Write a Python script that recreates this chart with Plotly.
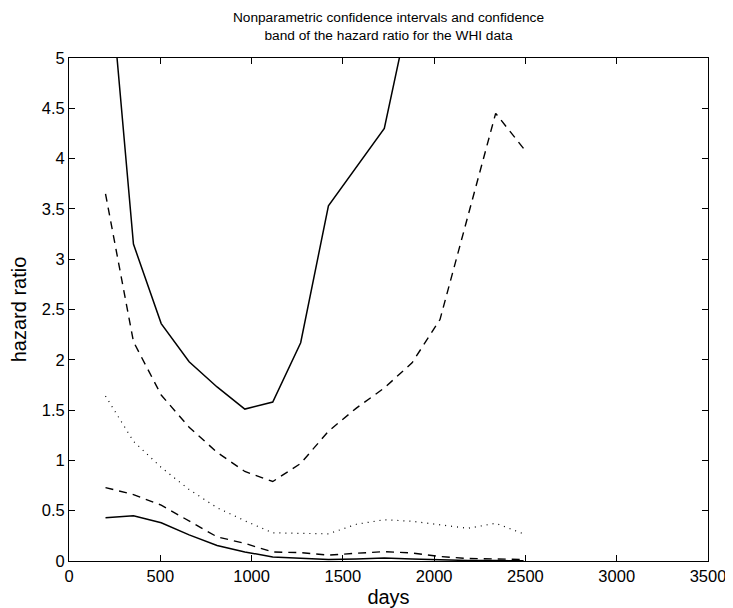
import plotly.graph_objects as go

days = [200, 353, 505, 658, 811, 963, 1116, 1269, 1421, 1574, 1727, 1879, 2032, 2185, 2337, 2490]

upper_band = [6.3, 3.15, 2.36, 1.98, 1.73, 1.51, 1.58, 2.17, 3.53, 3.92, 4.30, 5.59,
              None, None, None, None]
upper_ci = [3.65, 2.18, 1.65, 1.33, 1.08, 0.89, 0.79, 0.97, 1.29, 1.52, 1.72, 1.97,
            2.40, 3.42, 4.45, 4.10]
estimate = [1.64, 1.19, 0.93, 0.71, 0.53, 0.40, 0.28, 0.275, 0.27, 0.365, 0.41, 0.395,
            0.36, 0.325, 0.375, 0.27]
lower_ci = [0.73, 0.66, 0.555, 0.40, 0.24, 0.175, 0.09, 0.083, 0.058, 0.077, 0.093, 0.08,
            0.045, 0.025, 0.018, 0.015]
lower_band = [0.43, 0.45, 0.38, 0.26, 0.155, 0.09, 0.04, 0.03, 0.015, 0.02, 0.03, 0.02,
              0.01, 0.005, 0.004, 0.003]

x_ticks = [0, 500, 1000, 1500, 2000, 2500, 3000, 3500]
y_ticks = [0, 0.5, 1, 1.5, 2, 2.5, 3, 3.5, 4, 4.5, 5]
y_tick_labels = ["0", "0.5", "1", "1.5", "2", "2.5", "3", "3.5", "4", "4.5", "5"]

FONT = "Liberation Sans, Arial, Helvetica, sans-serif"

fig = go.Figure()
series = [
    (upper_band, "solid", 1.5),
    (upper_ci, "8px,6px", 1.4),
    (estimate, "1px,5px", 1.2),
    (lower_ci, "8px,6px", 1.4),
    (lower_band, "solid", 1.5),
]
for ys, dash, w in series:
    fig.add_trace(go.Scatter(x=days, y=ys, mode="lines",
                             line=dict(color="black", width=w, dash=dash),
                             connectgaps=False, showlegend=False, hoverinfo="skip"))

axis_common = dict(showline=True, linecolor="black", linewidth=1, mirror="allticks",
                   ticks="inside", ticklen=6, tickcolor="black", tickwidth=1,
                   showgrid=False, zeroline=False, automargin=False,
                   tickfont=dict(family=FONT, size=16.5, color="black"))

fig.update_xaxes(range=[0, 3500], tickvals=x_ticks, ticktext=[str(t) for t in x_ticks],
                 title=dict(text="days", font=dict(family=FONT, size=20, color="black"),
                            standoff=8),
                 **axis_common)
fig.update_yaxes(range=[0, 5], tickvals=y_ticks, ticktext=y_tick_labels,
                 title=dict(text="hazard ratio", font=dict(family=FONT, size=20, color="black"),
                            standoff=13),
                 **axis_common)

# the page body adds an 8px offset; size and margins compensate for it
fig.update_layout(
    width=725, height=600,
    margin=dict(l=61, r=17, t=50, b=39),
    paper_bgcolor="white", plot_bgcolor="white",
    title=dict(text="Nonparametric confidence intervals and confidence<br>band of the hazard ratio for the WHI data",
               x=0.5, xref="paper", xanchor="center",
               y=1 - 14 / 600, yref="container", yanchor="top",
               font=dict(family=FONT, size=13.7, color="black")),
)
fig.update_layout(margin=dict(l=61, r=25, t=50, b=47))

fig.write_html("out.html")
